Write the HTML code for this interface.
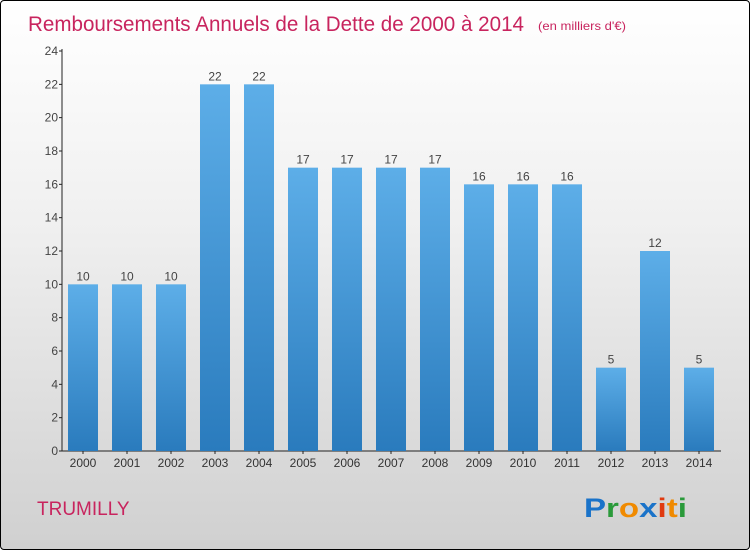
<!DOCTYPE html>
<html><head><meta charset="utf-8"><style>
body{margin:0;}
#wrap{position:relative;width:748px;height:548px;border:1px solid #000;border-radius:4px;background:linear-gradient(#ffffff 0%,#f0f0f0 40%,#d0d0d0 100%);overflow:hidden;font-family:"Liberation Sans",sans-serif;}
</style></head><body>
<div id="wrap">
<svg id="chart" width="748" height="548"></svg>
</div>
<script>
const categories=["2000","2001","2002","2003","2004","2005","2006","2007","2008","2009","2010","2011","2012","2013","2014"];
const values=[10,10,10,22,22,17,17,17,17,16,16,16,5,12,5];
const yTicks=[0,2,4,6,8,10,12,14,16,18,20,22,24];
const NS="http://www.w3.org/2000/svg";
const svg=document.getElementById('chart');
const x0=60,x1=720,yTop=50,yBot=450,yMax=24;
const band=(x1-x0)/categories.length,bw=30;
const ys=v=>yBot-(v/yMax)*(yBot-yTop);
const xc=i=>x0+band*(i+0.5);
function mk(t,a){const e=document.createElementNS(NS,t);for(const k in a)e.setAttribute(k,a[k]);svg.appendChild(e);return e;}
const defs=mk('defs',{});
defs.innerHTML='<linearGradient id="bg" x1="0" y1="0" x2="0" y2="1"><stop offset="0" stop-color="#5daee8"/><stop offset="1" stop-color="#2a7bbd"/></linearGradient>';
let t=mk('text',{x:27,y:30,'font-size':21,fill:'#c8245e',textLength:496,lengthAdjust:'spacingAndGlyphs'});

t.textContent='Remboursements Annuels de la Dette de 2000 à 2014';
let st=mk('text',{x:537,y:29,'font-size':12,fill:'#c8245e',textLength:88,lengthAdjust:'spacingAndGlyphs'});

st.textContent="(en milliers d'€)";
let ax=mk('line',{x1:61,y1:yTop-2,x2:61,y2:yBot,stroke:'#222','stroke-width':1});

let bx=mk('line',{x1:61,y1:yBot,x2:x1,y2:yBot,stroke:'#222','stroke-width':1});

yTicks.forEach(v=>{
 const y=ys(v);
 const tk=mk('line',{x1:58,y1:y,x2:61,y2:y,stroke:'#222'});
 
 const l=mk('text',{x:57,y:y+4,'text-anchor':'end','font-size':12,fill:'#444'});
 l.textContent=v;
 
});
categories.forEach((c,i)=>{
 const v=values[i],cx=xc(i);
 const r=mk('rect',{x:cx-bw/2,y:ys(v),width:bw,height:yBot-ys(v),fill:'url(#bg)'});
 
 const vl=mk('text',{x:cx,y:ys(v)-4,'text-anchor':'middle','font-size':12,fill:'#444'});
 vl.textContent=v;
 
 const tk=mk('line',{x1:cx,y1:yBot,x2:cx,y2:yBot+3,stroke:'#222'});
 
 const xl=mk('text',{x:cx,y:466,'text-anchor':'middle','font-size':12,fill:'#333'});
 xl.textContent=c;
 
});
let cn=mk('text',{x:36,y:514,'font-size':19,fill:'#c8245e'});
cn.textContent='TRUMILLY';

let lg=mk('text',{x:583,y:516,'font-size':27,'font-weight':'bold',textLength:103,lengthAdjust:'spacingAndGlyphs'});
lg.innerHTML='<tspan fill="#1a73c9">P</tspan><tspan fill="#2a9a3a">r</tspan><tspan fill="#f08a00">o</tspan><tspan fill="#1a73c9">x</tspan><tspan fill="#e03a10">i</tspan><tspan fill="#f08a00">t</tspan><tspan fill="#2a9a3a">i</tspan>';

</script>
</body></html>
